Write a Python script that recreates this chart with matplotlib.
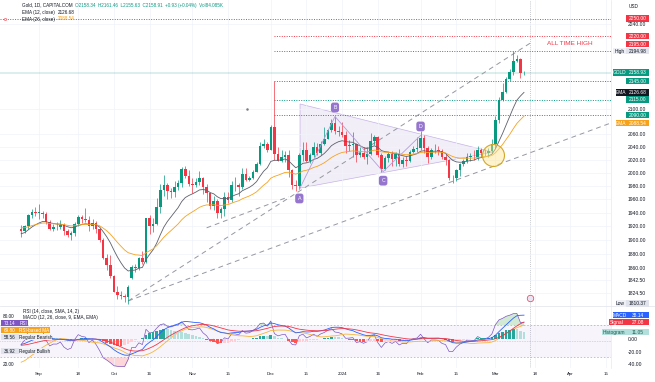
import numpy as np
import pandas as pd
import matplotlib
matplotlib.use("Agg")
import matplotlib.pyplot as plt
from matplotlib.patches import Polygon, Rectangle

plt.rcParams["font.family"] = ["Liberation Sans", "DejaVu Sans"]

# cierres previos (no se dibujan, solo para arrancar EMA/RSI/MACD)
warmup_closes = [1944, 1934, 1934, 1943, 1936, 1925, 1915, 1913, 1914, 1907,
                 1902, 1892, 1889, 1889, 1894, 1899, 1915, 1917]

# velas diarias 2023-08-25 .. 2024-03-13
opens = [1917, 1914, 1920, 1937, 1942,
         1940, 1940, 1939, 1926, 1916, 1919, 1919, 1922, 1913, 1908, 1910, 1924, 1934, 1931, 1930, 1920, 1925, 1916, 1901, 1875, 1864,
         1849, 1827, 1822, 1821, 1820, 1846, 1861, 1860, 1874, 1868, 1933, 1920, 1923, 1948, 1974, 1981, 1973, 1971, 1979, 1985, 2006, 1996,
         1983, 1982, 1986, 1992, 1978, 1969, 1950, 1958, 1940, 1946, 1963, 1959, 1981, 1981, 1978, 1998, 1990, 1992, 2002, 2014, 2041, 2044,
         2036, 2072, 2029, 2019, 2025, 2028, 2004, 1982, 1980, 2027, 2036, 2019, 2027, 2040, 2031, 2045, 2053, 2067, 2077, 2065,
         2063, 2058, 2042, 2043, 2045, 2027, 2030, 2024, 2029, 2049, 2055, 2028, 2006, 2023, 2029, 2021, 2029, 2014, 2020, 2018, 2032, 2037,
         2039, 2054, 2039, 2025, 2035, 2035, 2034, 2024, 2020, 1992, 1992, 2004, 2013, 2018, 2025, 2025, 2024, 2036, 2031, 2030, 2034,
         2044, 2083, 2115, 2128, 2148, 2160, 2179, 2182, 2158.34]
highs = [1922, 1922, 1939, 1946, 1949,
         1953, 1943, 1942, 1929, 1924, 1926, 1930, 1925, 1916, 1914, 1927, 1937, 1937, 1947, 1935, 1931, 1928, 1918, 1903, 1880, 1879,
         1850, 1835, 1828, 1824, 1836, 1865, 1866, 1876, 1885, 1933, 1937, 1933, 1962, 1983, 1997, 1985, 1977, 1988, 1990, 2009, 2010, 2004,
         1992, 1993, 2003, 1994, 1983, 1970, 1965, 1960, 1948, 1971, 1971, 1987, 1994, 1985, 2007, 2008, 1996, 2004, 2017, 2048, 2052, 2047,
         2075, 2146, 2040, 2036, 2034, 2036, 2006, 1989, 2030, 2047, 2047, 2030, 2047, 2046, 2049, 2071, 2068, 2084, 2088, 2073,
         2079, 2065, 2051, 2064, 2046, 2040, 2040, 2039, 2062, 2059, 2057, 2030, 2026, 2032, 2033, 2032, 2037, 2024, 2026, 2035, 2042, 2055,
         2065, 2058, 2041, 2039, 2044, 2041, 2037, 2030, 2022, 1997, 2006, 2015, 2022, 2031, 2031, 2035, 2041, 2039, 2037, 2038, 2052,
         2088, 2120, 2142, 2152, 2165, 2195, 2189, 2184, 2161.46]
lows = [1904, 1911, 1917, 1932, 1936,
        1931, 1933, 1923, 1915, 1913, 1915, 1917, 1908, 1905, 1901, 1906, 1921, 1925, 1926, 1914, 1917, 1911, 1898, 1873, 1858, 1846,
        1826, 1816, 1816, 1813, 1810.37, 1844, 1854, 1857, 1866, 1867, 1909, 1912, 1922, 1940, 1965, 1961, 1962, 1963, 1974, 1978, 1993, 1980,
        1970, 1978, 1982, 1968, 1956, 1946, 1944, 1932, 1932, 1936, 1955, 1956, 1973, 1965, 1975, 1988, 1987, 1991, 2001, 2012, 2038, 2032,
        2035, 2020, 2018, 2017, 2017, 1994, 1976, 1973, 1975, 2018, 2016, 2015, 2024, 2027, 2028, 2043, 2052, 2063, 2061, 2057,
        2055, 2030, 2034, 2024, 2017, 2024, 2021, 2013, 2028, 2043, 2024, 2002, 2005, 2017, 2010, 2011, 2011, 2009, 2011, 2016, 2030, 2032,
        2036, 2030, 2015, 2022, 2030, 2028, 2021, 2012, 1990, 1984, 1988, 1996, 2011, 2015, 2019, 2020, 2020, 2025, 2026, 2025, 2031,
        2039, 2077, 2113, 2126, 2146, 2155, 2176, 2150, 2155.63]
closes = [1914, 1920, 1937, 1942, 1940,
          1940, 1939, 1926, 1916, 1919, 1919, 1922, 1913, 1908, 1910, 1924, 1934, 1931, 1930, 1920, 1925, 1916, 1901, 1875, 1864, 1849,
          1827, 1822, 1821, 1820, 1833, 1861, 1860, 1874, 1868, 1933, 1920, 1923, 1948, 1974, 1981, 1973, 1971, 1979, 1985, 2006, 1996, 1983,
          1982, 1986, 1992, 1978, 1969, 1950, 1958, 1940, 1946, 1963, 1959, 1981, 1981, 1978, 1998, 1990, 1992, 2002, 2014, 2041, 2044, 2036,
          2072, 2029, 2019, 2025, 2028, 2004, 1982, 1980, 2027, 2036, 2019, 2027, 2040, 2031, 2045, 2053, 2067, 2077, 2065, 2063,
          2058, 2042, 2043, 2045, 2027, 2030, 2024, 2029, 2049, 2055, 2028, 2006, 2023, 2029, 2021, 2029, 2014, 2020, 2018, 2032, 2037, 2039,
          2054, 2039, 2025, 2035, 2035, 2034, 2024, 2020, 1992, 1992, 2004, 2013, 2018, 2025, 2025, 2024, 2036, 2031, 2030, 2034, 2044,
          2083, 2115, 2128, 2148, 2160, 2179, 2182, 2158, 2158.91]

first_day = "2023-08-25"
holidays = ["2023-12-25", "2024-01-01"]
tick_dates = ["2023-09-01", "2023-09-18", "2023-10-02", "2023-10-16", "2023-11-01", "2023-11-15",
              "2023-12-01", "2023-12-15", "2024-01-02", "2024-01-16", "2024-02-01", "2024-02-15",
              "2024-03-01", "2024-03-18", "2024-04-01", "2024-04-15"]
tick_labels = ["Sep", "18", "Oct", "16", "Nov", "15", "Dec", "15", "2024", "16", "Feb", "15",
               "Mar", "18", "Apr", "15"]

price_ticks = [2240, 2100, 2060, 2040, 2020, 2000, 1980, 1960, 1940, 1920, 1900, 1880, 1860, 1842.5, 1824.5]
red_levels = [2250, 2220, 2195]
green_levels = [2145, 2115, 2090]
last_price = 2158.93

# patron ABCD y triangulo (indice de vela, precio)
abcd_points = [(78, 1975), (88, 2088), (101.5, 2002), (112, 2058)]
abcd_names = ["A", "B", "C", "D"]
triangle = [(78.2, 2108), (78.2, 1977), (132.3, 2032)]
fan_lines = [((30, 1814), (166, 2079)), ((30, 1814), (142.7, 2208)), ((52, 1918), (75, 1964))]

# indicadores
serie = pd.Series(warmup_closes + closes, dtype=float)
n_warm = len(warmup_closes)
ema12 = serie.ewm(span=12, adjust=False).mean()
ema26 = serie.ewm(span=26, adjust=False).mean()
macd = ema12 - ema26
signal = macd.ewm(span=9, adjust=False).mean()
hist = macd - signal
delta = serie.diff().fillna(0)
gain = delta.clip(lower=0).ewm(alpha=1 / 14, adjust=False).mean()
loss = (-delta.clip(upper=0)).ewm(alpha=1 / 14, adjust=False).mean()
rsi = 100 - 100 / (1 + gain / loss)
rsi_ma = rsi.rolling(14, min_periods=1).mean()

ema12 = ema12.values[n_warm:]
ema26 = ema26.values[n_warm:]
macd = macd.values[n_warm:]
signal = signal.values[n_warm:]
hist_full = hist.values
hist = hist_full[n_warm:]
rsi = rsi.values[n_warm:]
rsi_ma = rsi_ma.values[n_warm:]

dates = pd.bdate_range(first_day, "2024-05-31")
dates = dates[~dates.isin(pd.to_datetime(holidays))]
tick_pos = [dates.get_loc(pd.Timestamp(d)) for d in tick_dates]

o, h, l, c = (np.array(v, dtype=float) for v in (opens, highs, lows, closes))
x = np.arange(len(c))

GREEN = "#089981"
RED = "#F23645"
W, H = 655, 382

fig = plt.figure(figsize=(W / 100, H / 100), dpi=100)
ax = fig.add_axes([0, 1 - 306 / H, 611 / W, 306 / H])
axi = fig.add_axes([0, 1 - 368 / H, 611 / W, 62 / H])
axm = axi.twinx()

x0, x1 = -5.94, 165.4
for a in (ax, axi, axm):
    a.set_xlim(x0, x1)
    for s in a.spines.values():
        s.set_visible(False)

# panel de precio
ax.set_yscale("log")
ax.set_ylim(1807, 2282)
ax.yaxis.set_major_locator(matplotlib.ticker.FixedLocator(price_ticks))
ax.yaxis.set_major_formatter(matplotlib.ticker.FixedFormatter([f"{p:.2f}" for p in price_ticks]))
ax.yaxis.set_minor_locator(matplotlib.ticker.NullLocator())
ax.yaxis.tick_right()
ax.tick_params(axis="y", length=0, pad=12, labelsize=3.6, labelcolor="#131722")
ax.set_xticks(tick_pos)
ax.tick_params(axis="x", length=0, labelbottom=False)
ax.grid(True, color="#F0F3FA", lw=0.5)

colores = np.where(c >= o, GREEN, RED)
ax.vlines(x, l, h, colors=colores, lw=0.5, zorder=3)
ax.bar(x, np.maximum(np.abs(c - o), 0.6), bottom=np.minimum(o, c), width=0.72,
       color=colores, lw=0, zorder=3)
ax.plot(x, ema12, color="#5D606B", lw=0.6, zorder=4)
ax.plot(x, ema26, color="#F7A21B", lw=0.6, zorder=4)

ax.hlines(red_levels[0], x0, x1, colors=RED, lw=0.7, linestyles=(0, (1, 1.5)), zorder=2)
ax.hlines(red_levels[1:], 71, x1, colors=RED, lw=0.7, linestyles=(0, (1, 1.5)), zorder=2)
ax.hlines(green_levels, 71, x1, colors=GREEN, lw=0.7, linestyles=(0, (1, 1.5)), zorder=2)
ax.hlines(last_price, x0, x1, colors=GREEN, lw=0.35, alpha=0.6, zorder=2)
ax.plot([x0 + 1.3], [red_levels[0]], "o", ms=1.6, mfc="white", mec=RED, mew=0.4)
ax.plot([63.3], [2100], "o", ms=0.8, color="#787B86")

for (xa, ya), (xb, yb) in fan_lines:
    ax.plot([xa, xb], [ya, yb], color="#9598A1", lw=0.7, ls=(0, (5, 4)), zorder=2)

ax.add_patch(Polygon(triangle, closed=True, fc="#9575CD", alpha=0.12, ec="none", zorder=1))
ax.add_patch(Polygon(triangle, closed=True, fill=False, ec="#C5B3E6", lw=0.5, zorder=1))
ax.plot([p[0] for p in abcd_points], [p[1] for p in abcd_points], color="#B39DDB", lw=0.6, zorder=4)
for (px, pp), name, dy in zip(abcd_points, abcd_names, [-6.5, 6.5, -6.5, 6.5]):
    ax.annotate(name, (px, pp), xytext=(0, dy), textcoords="offset points", ha="center", va="center",
                fontsize=3.8, color="white", zorder=6,
                bbox=dict(boxstyle="round,pad=0.45", fc="#9575CD", ec="none"))

ax.scatter([132.3], [2027], s=250, facecolor=(1, 0.9, 0.55, 0.45), edgecolor="#D4A72C", lw=0.8, zorder=5)
ax.text(147.5, 2207, "ALL TIME HIGH", color=RED, fontsize=4.6, ha="left", va="center", zorder=6)

for a in (ax, axi):
    a.axvline(142.7, color="#B2B5BE", lw=0.6, ls=(0, (1, 1.5)), zorder=1)
ax.scatter([142.7], [1818], s=22, facecolor="#E3E8F7", edgecolor=RED, lw=0.5, zorder=6)

# panel RSI + MACD
axi.set_ylim(16.25, 93.75)
axm.set_ylim(-46.4, 52.8)
axi.set_yticks([])
axi.set_xticks(tick_pos)
axi.set_xticklabels(tick_labels)
axi.tick_params(axis="x", length=0, labelsize=3.2, labelcolor="#131722", pad=3)
axi.grid(True, axis="x", color="#F0F3FA", lw=0.5)
axm.set_yticks([0, -20, -40])
axm.set_yticklabels(["0.00", "-20.00", "-40.00"])
axm.tick_params(axis="y", length=0, pad=12, labelsize=3.6, labelcolor="#131722")

axi.axhspan(30, 70, color="#7E57C2", alpha=0.06, lw=0)
axi.axhline(70, color="#9598A1", lw=0.4, ls=(0, (3, 3)))
axi.axhline(50, color="#9598A1", lw=0.4, ls=(0, (1, 2)))
axi.axhline(30, color="#9598A1", lw=0.4, ls=(0, (3, 3)))
axi.fill_between(x, rsi, 70, where=rsi > 70, interpolate=True, color="#4CAF50", alpha=0.25, lw=0)
axi.fill_between(x, rsi, 30, where=rsi < 30, interpolate=True, color="#F23645", alpha=0.2, lw=0)
axi.plot(x, rsi, color="#7E57C2", lw=0.5)
axi.plot(x, rsi_ma, color="#F7B53B", lw=0.6)

prev = hist_full[n_warm - 1:-1]
hcol = np.where(hist >= 0, np.where(hist > prev, "#26A69A", "#B2DFDB"),
                np.where(hist < prev, "#FF5252", "#FFCDD2"))
axm.bar(x, hist, width=0.75, color=hcol, lw=0)
axm.plot(x, macd, color="#2962FF", lw=0.6)
axm.plot(x, signal, color=RED, lw=0.6)

# lineas de separacion
fig.add_artist(plt.Line2D([0, 1], [1 - 306 / H] * 2, color="#E0E3EB", lw=0.5))
fig.add_artist(plt.Line2D([611 / W] * 2, [1 - 368 / H, 1], color="#E0E3EB", lw=0.4))


def pixel_y(axis, v):
    return H - axis.transData.transform((0, v))[1]


def caja(xa, xb, yc, texto, fondo, color_texto, size=3.5, alto=6.4):
    fig.add_artist(Rectangle((xa / W, 1 - (yc + alto / 2) / H), (xb - xa) / W, alto / H,
                             transform=fig.transFigure, fc=fondo, ec="none", zorder=10))
    fig.text((xa + xb) / 2 / W, 1 - (yc + 0.2) / H, texto, ha="center", va="center",
             fontsize=size, color=color_texto, zorder=11)


def etiqueta(axis, valor, texto, fondo, color_texto, dy=0, nombre=None, fondo_n=None, color_n=None):
    yc = pixel_y(axis, valor) + dy
    caja(626, 649, yc, texto, fondo, color_texto)
    if nombre:
        ancho = len(nombre) * 2.3 + 3
        caja(625.5 - ancho, 625.5, yc, nombre, fondo_n or fondo, color_n or color_texto)


etiqueta(ax, 2250, "2250.00", RED, "white")
etiqueta(ax, 2220, "2220.00", RED, "white")
etiqueta(ax, 2195, "2195.00", RED, "white", dy=-7)
etiqueta(ax, 2194.98, "2194.98", "#E0E3EB", "#131722", nombre="High", fondo_n="#EEF0F5")
etiqueta(ax, 2158.93, "2158.93", GREEN, "white", nombre="GOLD")
etiqueta(ax, 2145, "2145.00", GREEN, "white")
etiqueta(ax, 2126.68, "2126.68", "#131722", "white", nombre="EMA")
etiqueta(ax, 2115, "2115.00", GREEN, "white")
etiqueta(ax, 2090, "2090.00", GREEN, "white")
etiqueta(ax, 2088.54, "2088.54", "#F7A21B", "white", dy=7, nombre="EMA")
etiqueta(ax, 1810.37, "1810.37", "#E0E3EB", "#131722", nombre="Low", fondo_n="#EEF0F5")
etiqueta(axm, 38.14, "38.14", "#2962FF", "white", nombre="MACD")
etiqueta(axm, 27.08, "27.08", RED, "white", nombre="Signal")
etiqueta(axm, 11.05, "11.05", "#B2DFDB", "#1B5E50", nombre="Histogram")
fig.text(634 / W, 1 - 7 / H, "USD", fontsize=3.4, color="#131722", ha="center", va="center")

# etiquetas izquierdas del RSI
fig.text(3 / W, 1 - 317 / H, "80.00", fontsize=3.4, color="#131722", va="center")
fig.text(3 / W, 1 - 365 / H, "20.00", fontsize=3.4, color="#131722", va="center")
caja(1, 18.5, 323, "73.14", "#7E57C2", "white", size=3.3)
caja(19, 28, 323, "RSI", "#7E57C2", "white", size=3.3)
caja(1, 18.5, 330, "69.80", "#F7A21B", "white", size=3.3)
caja(19, 50, 330, "RSI-based MA", "#F7A21B", "white", size=3.3)
caja(1, 18.5, 337, "58.56", "#E0E3EB", "#131722", size=3.3)
caja(19, 52, 337, "Regular Bearish", "#EEF0F5", "#131722", size=3.3)
caja(1, 18.5, 351, "36.92", "#E0E3EB", "#131722", size=3.3)
caja(19, 50, 351, "Regular Bullish", "#EEF0F5", "#131722", size=3.3)


def leyenda(px, py, partes, size=3.3):
    t = fig.text(px / W, 1 - py / H, partes[0][0], color=partes[0][1], fontsize=size, va="center", ha="left")
    for texto, col in partes[1:]:
        t = ax.annotate(texto, xy=(1, 0.5), xycoords=t, xytext=(2, 0), textcoords="offset points",
                        va="center", ha="left", color=col, fontsize=size, annotation_clip=False)


leyenda(22, 5, [("Gold, 1D, CAPITALCOM", "#131722"),
                ("O2158.34  H2161.46  L2155.63  C2158.91  +0.93 (+0.04%)  Vol84.085K", GREEN)])
leyenda(22, 12.5, [("EMA (12, close)", "#131722"), ("2126.68", "#131722")])
leyenda(22, 19, [("EMA (26, close)", "#131722"), ("2088.54", "#F7A21B")])
leyenda(23, 311, [("RSI (14, close, SMA, 14, 2)", "#131722"), ("73.14", "#7E57C2"), ("69.80", "#F7A21B"),
                  ("\u2205  \u2205  \u2205  \u2205  \u2205  \u2205  \u2205  \u2205", "#787B86")])
leyenda(23, 318, [("MACD (12, 26, close, 9, EMA, EMA)", "#131722"), ("11.05", "#80CBC4"),
                  ("38.14", "#2962FF"), ("27.08", RED)])

fig.savefig("out.png", dpi=100)
